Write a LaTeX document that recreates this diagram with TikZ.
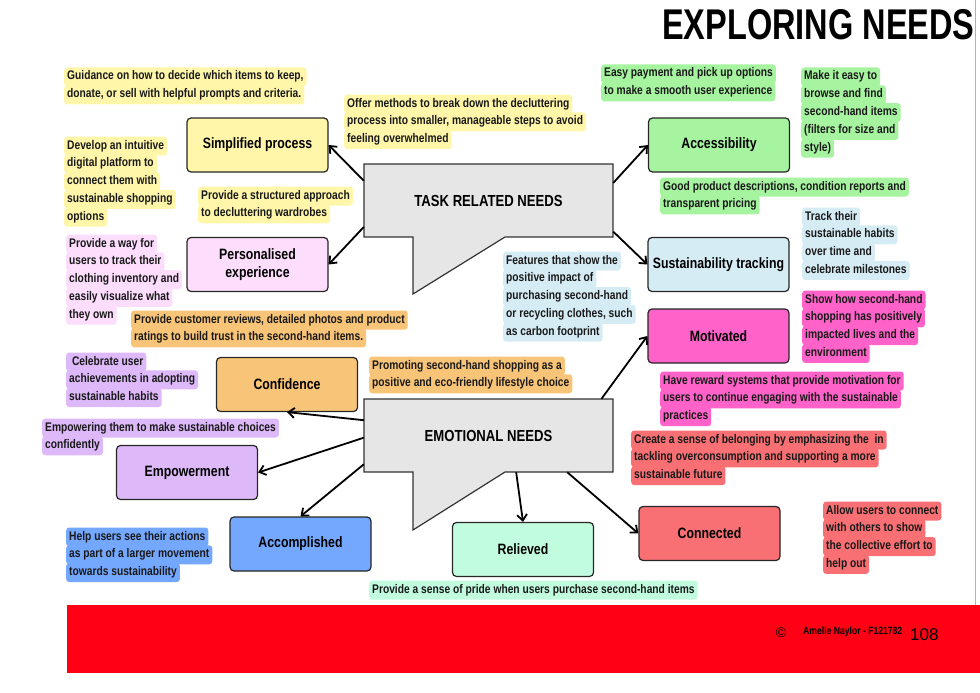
\documentclass[tikz,border=0pt]{standalone}
\usepackage{fontspec}
\newfontfamily\cond{Liberation Sans}[FakeStretch=0.82]
\newfontfamily\titlefont{Liberation Sans}[FakeStretch=0.756]
\newfontfamily\plainfont{Liberation Sans}
\usetikzlibrary{arrows.meta}
\definecolor{cyel}{HTML}{FFF6AA}
\definecolor{cpinkl}{HTML}{FCDDFC}
\definecolor{cgreen}{HTML}{A6F3A0}
\definecolor{cblul}{HTML}{D6ECF5}
\definecolor{cmag}{HTML}{FF62C9}
\definecolor{corange}{HTML}{F8C477}
\definecolor{clav}{HTML}{DDB9F9}
\definecolor{cblue}{HTML}{74A8FF}
\definecolor{cmint}{HTML}{C2FCDF}
\definecolor{csalmon}{HTML}{F87074}
\definecolor{cbub}{HTML}{E6E6E6}
\definecolor{cred}{HTML}{FF0014}
\tikzset{
  notestyle/.style={anchor=west, font=\cond\bfseries\fontsize{12.5}{14}\selectfont,
    inner xsep=3pt, inner ysep=3pt, text height=9.5pt, text depth=3.5pt, rounded corners=3pt, text=black!90},
  needbox/.style={draw=black!85, line width=1.2pt, rounded corners=4pt, minimum width=141pt,
    minimum height=54pt, align=center, font=\cond\bfseries\fontsize{15}{18.5}\selectfont, inner sep=2pt},
  bubbletext/.style={font=\cond\bfseries\fontsize{16}{18}\selectfont, minimum width=249pt, minimum height=73pt, inner sep=0pt},
  bubble/.style={fill=cbub, draw=black!80, line width=1.2pt},
  link/.style={line width=1.8pt, -{Straight Barb[length=6pt,width=10pt]}}
}
\newcommand\notebox[5]{\foreach \t [count=\i from 0] in {#5}{\node[notestyle,fill=#4] (#1-\i) at (#2,#3+17.8*\i) {\t};}}
\begin{document}
\begin{tikzpicture}[x=1pt,y=-1pt]
\useasboundingbox (0,0) rectangle (980,693);
% frame line and footer
\draw[gray!60, line width=0.8pt] (975,0) -- (975,605);
\fill[cred] (67,605) rectangle (980,673);
\node[anchor=center, font=\plainfont\fontsize{14}{14}\selectfont] (copy) at (781,633) {©};
\node[anchor=west, inner sep=0pt, font=\cond\bfseries\fontsize{10.5}{11}\selectfont] (author) at (803,632) {Amelie Naylor - F121782};
\node[anchor=west, inner sep=0pt, font=\plainfont\fontsize{17}{17}\selectfont] (page) at (910,635) {108};
% title
\node[anchor=west, inner sep=0pt, font=\titlefont\bfseries\fontsize{43}{43}\selectfont] (title) at (662,25) {EXPLORING NEEDS};

% bubbles
\draw[bubble] (364,164) -- (613,164) -- (613,237) -- (505,237) -- (413,294) -- (413,237) -- (364,237) -- cycle;
\node[bubbletext] (task) at (488.5,200.5) {TASK RELATED NEEDS};
\draw[bubble] (364,399) -- (613,399) -- (613,472) -- (505,472) -- (413,530) -- (413,472) -- (364,472) -- cycle;
\node[bubbletext] (emo) at (488.5,435.5) {EMOTIONAL NEEDS};

% need boxes
\node[needbox, fill=cyel] (simp) at (257.5,145) {Simplified process};
\node[needbox, fill=cpinkl] (pers) at (257.5,264.5) {Personalised\\experience};
\node[needbox, fill=cgreen] (acc) at (719,145) {Accessibility};
\node[needbox, fill=cblul] (sus) at (718.5,264.5) {Sustainability tracking};
\node[needbox, fill=cmag] (mot) at (718.5,336) {Motivated};
\node[needbox, fill=corange] (conf) at (287,384.5) {Confidence};
\node[needbox, fill=clav] (emp) at (187,472.5) {Empowerment};
\node[needbox, fill=cblue] (accom) at (300.5,544) {Accomplished};
\node[needbox, fill=cmint] (rel) at (523,549.5) {Relieved};
\node[needbox, fill=csalmon] (con) at (709.5,533.5) {Connected};

% connectors
\draw[link] (task.171.8) -- (simp.east);
\draw[link] (task.192.7) -- (pers.east);
\draw[link] (task.8.2) -- (acc.west);
\draw[link] (task.346.5) -- (sus.west);
\draw[link] (emo.18.9) -- (mot.west);
\draw[link] (emo.173.4) -- (conf.south);
\draw[link] (emo.181.2) -- (emp.east);
\draw[link] (emo.193.3) -- (accom.north);
\draw[link] (emo.307) -- (rel.north);
\draw[link] (emo.335.9) -- (con.west);

% notes
\notebox{n1}{64}{77}{cyel}{{Guidance on how to decide which items to keep,},{donate, or sell with helpful prompts and criteria.}}
\notebox{n2}{64}{146}{cyel}{{Develop an intuitive},{digital platform to},{connect them with},{sustainable shopping},{options}}
\notebox{n3}{344}{104}{cyel}{{Offer methods to break down the decluttering},{process into smaller, manageable steps to avoid},{feeling overwhelmed}}
\notebox{n4}{198}{196}{cyel}{{Provide a structured approach},{to decluttering wardrobes}}
\notebox{n5}{66}{244}{cpinkl}{{Provide a way for},{users to track their},{clothing inventory and},{easily visualize what},{they own}}
\notebox{n6}{131}{320}{corange}{{Provide customer reviews, detailed photos and product},{ratings to build trust in the second-hand items.}}
\notebox{n7}{66}{362}{clav}{{\ Celebrate user},{achievements in adopting},{sustainable habits}}
\notebox{n8}{369}{366}{corange}{{Promoting second-hand shopping as a},{positive and eco-friendly lifestyle choice}}
\notebox{n9}{42}{428}{clav}{{Empowering them to make sustainable choices},{confidently}}
\notebox{n10}{66}{537}{cblue}{{Help users see their actions},{as part of a larger movement},{towards sustainability}}
\notebox{n11}{369}{590}{cmint}{{Provide a sense of pride when users purchase second-hand items}}
\notebox{n12}{601}{74}{cgreen}{{Easy payment and pick up options},{to make a smooth user experience}}
\notebox{n13}{801}{77}{cgreen}{{Make it easy to},{browse and find},{second-hand items},{(filters for size and},{style)}}
\notebox{n14}{660}{187}{cgreen}{{Good product descriptions, condition reports and},{transparent pricing}}
\notebox{n15}{802}{217}{cblul}{{Track their},{sustainable habits},{over time and},{celebrate milestones}}
\notebox{n16}{503}{261}{cblul}{{Features that show the},{positive impact of},{purchasing second-hand},{or recycling clothes, such},{as carbon footprint}}
\notebox{n17}{802}{300}{cmag}{{Show how second-hand},{shopping has positively},{impacted lives and the},{environment}}
\notebox{n18}{660}{381}{cmag}{{Have reward systems that provide motivation for},{users to continue engaging with the sustainable},{practices}}
\notebox{n19}{631}{440}{csalmon}{{Create a sense of belonging by emphasizing the~ in},{tackling overconsumption and supporting a more},{sustainable future}}
\notebox{n20}{823}{511}{csalmon}{{Allow users to connect},{with others to show},{the collective effort to},{help out}}
\end{tikzpicture}
\end{document}
